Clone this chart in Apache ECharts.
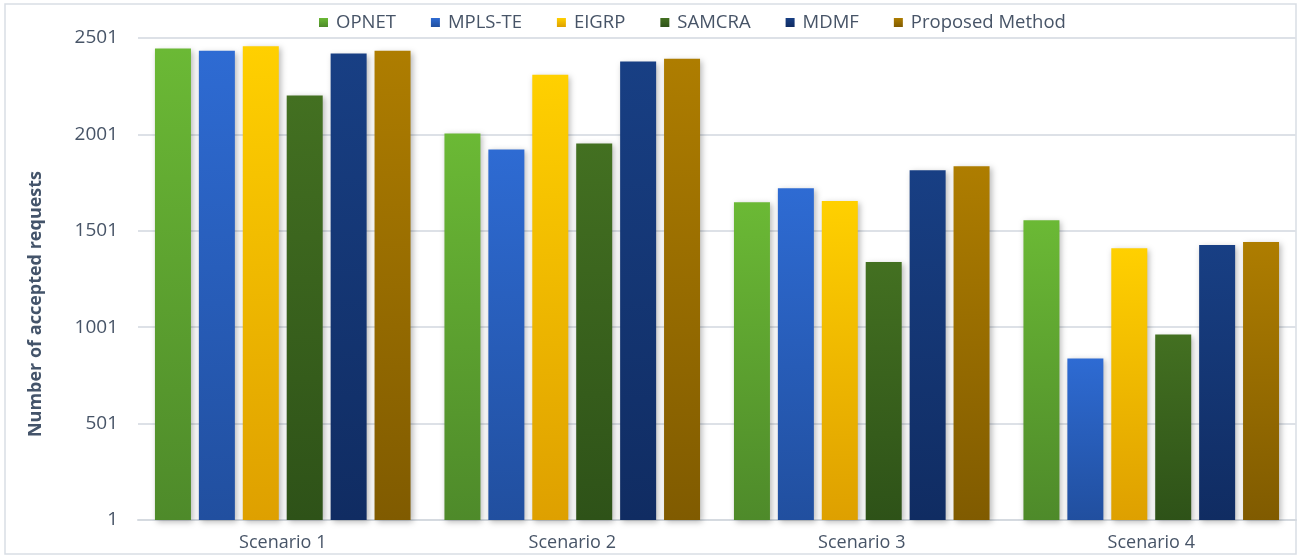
<!DOCTYPE html>
<html>
<head>
<meta charset="utf-8">
<script src="https://cdn.jsdelivr.net/npm/echarts@6/dist/echarts.min.js"></script>
<style>
html,body{margin:0;padding:0;background:#fff;}
#chart{width:1301px;height:556px;}
</style>
</head>
<body>
<div id="chart"></div>
<script>
var categories = ['Scenario 1', 'Scenario 2', 'Scenario 3', 'Scenario 4'];
var seriesNames = ['OPNET', 'MPLS-TE', 'EIGRP', 'SAMCRA', 'MDMF', 'Proposed Method'];
var opnet    = [2446, 2006, 1649, 1556];
var mplsTe   = [2435, 1923, 1722, 839];
var eigrp    = [2458, 2311, 1655, 1411];
var samcra   = [2203, 1954, 1339, 963];
var mdmf     = [2420, 2379, 1815, 1427];
var proposed = [2435, 2394, 1836, 1443];
var yTicks = [1, 501, 1001, 1501, 2001, 2501];

var seriesData = [opnet, mplsTe, eigrp, samcra, mdmf, proposed];
var topColors = ['#6BB935', '#2E6BD3', '#FFD000', '#437021', '#183F84', '#AE7D00'];
var bottomColors = ['#4E8A2A', '#214F9F', '#DEA000', '#2E5218', '#102C62', '#805B00'];

var textColor = '#475467';
var font = '"Open Sans", "Noto Sans", sans-serif';

var chart = echarts.init(document.getElementById('chart'), null, {renderer: 'canvas'});

var series = seriesNames.map(function (name, i) {
  return {
    name: name,
    type: 'bar',
    data: seriesData[i],
    barWidth: 36,
    barGap: '22%',
    itemStyle: {
      color: new echarts.graphic.LinearGradient(0, 0, 0, 1, [
        {offset: 0, color: topColors[i]},
        {offset: 1, color: bottomColors[i]}
      ]),
      shadowBlur: 6,
      shadowColor: 'rgba(0,0,0,0.28)',
      shadowOffsetX: 2,
      shadowOffsetY: 2
    }
  };
});

chart.setOption({
  animation: false,
  backgroundColor: '#fff',
  textStyle: {fontFamily: font},
  legend: {
    data: seriesNames.map(function (n, i) {
      return {name: n, itemStyle: {color: new echarts.graphic.LinearGradient(0, 0, 0, 1, [
        {offset: 0, color: topColors[i]}, {offset: 1, color: bottomColors[i]}])}};
    }),
    left: 314,
    top: 8,
    itemWidth: 9,
    itemHeight: 9,
    itemGap: 35,
    icon: 'rect',
    textStyle: {color: textColor, fontSize: 18.5, fontFamily: font, padding: [0, 0, 0, 3]}
  },
  grid: {left: 138, right: 5, top: 38, height: 482, containLabel: false},
  xAxis: {
    type: 'category',
    data: categories,
    axisLine: {show: true, lineStyle: {color: '#D5DAE0', width: 2}},
    axisTick: {show: false},
    axisLabel: {color: textColor, fontSize: 18, fontFamily: font, margin: 14}
  },
  yAxis: {
    type: 'value',
    min: yTicks[0],
    max: yTicks[yTicks.length - 1],
    interval: 500,
    axisLine: {show: false},
    axisTick: {show: false},
    axisLabel: {color: textColor, fontSize: 19, fontFamily: font, margin: 20,
      formatter: function (v) { return String(v); }},
    splitLine: {lineStyle: {color: '#DDE1E7', width: 2}}
  },
  graphic: [
    {
      type: 'rect',
      shape: {x: 5, y: 4, width: 1291, height: 550},
      style: {fill: 'none', stroke: '#D9DEE5', lineWidth: 1.5},
      silent: true,
      z: -1
    },
    {
      type: 'text',
      x: 36,
      y: 304,
      rotation: Math.PI / 2,
      style: {
        text: 'Number of accepted requests',
        fill: '#44546A',
        font: 'bold 18px "Open Sans", "Noto Sans", sans-serif',
        textAlign: 'center',
        textVerticalAlign: 'middle'
      }
    }
  ],
  series: series
});
</script>
</body>
</html>
